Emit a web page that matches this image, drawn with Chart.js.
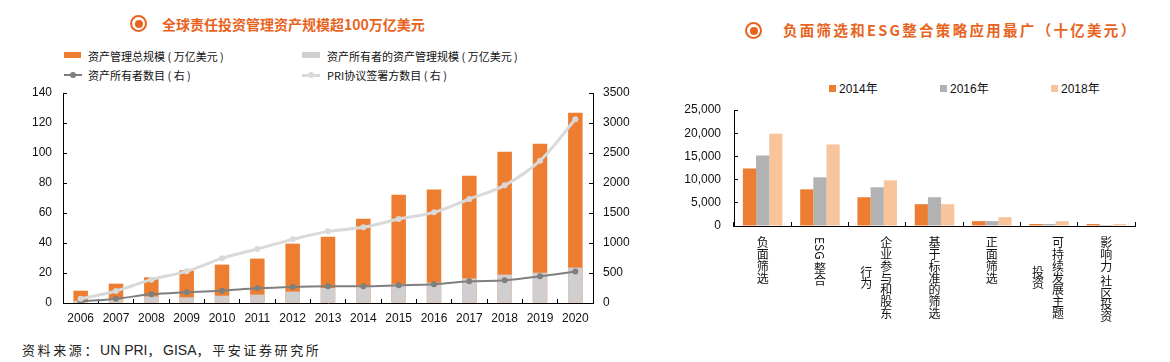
<!DOCTYPE html>
<html>
<head>
<meta charset="utf-8">
<script src="https://cdn.jsdelivr.net/npm/chart.js@4"></script>
<style>
  body { margin: 0; background: #fff; font-family: "Noto Sans CJK SC", "Liberation Sans", sans-serif; }
  #page { position: relative; width: 1170px; height: 362px; overflow: hidden; }
  .title { position: absolute; color: #E8641E; font-weight: bold; font-size: 14px; white-space: nowrap; line-height: 18px; }
  .ring { position: absolute; width: 13px; height: 13px; border: 2px solid #E8641E; border-radius: 50%; }
  .ring::after { content: ""; position: absolute; left: 2.5px; top: 2.5px; width: 8px; height: 8px; border-radius: 50%; background: #E8641E; }
  .leg { position: absolute; font-size: 11px; color: #111; white-space: nowrap; line-height: 14px; }
  .sw { position: absolute; }
  .box { position: absolute; }
  #foot { position: absolute; left: 22px; top: 340px; font-size: 13px; color: #222; letter-spacing: 2.6px; white-space: nowrap; }
  #foot .lat { font-family: "Liberation Sans"; font-size: 14px; letter-spacing: 0; }
</style>
</head>
<body>
<div id="page">
  <!-- 左图 -->
  <div class="ring" style="left:130px;top:15px;"></div>
  <div class="title" style="left:162px;top:15px;">全球责任投资管理资产规模超100万亿美元</div>

  <div class="sw" style="left:64px;top:52px;width:17px;height:6px;background:#ED7D31;"></div>
  <div class="leg" style="left:88px;top:49px;">资产管理总规模 ( 万亿美元 )</div>
  <div class="sw" style="left:302px;top:52px;width:18px;height:6px;background:#D0CECE;"></div>
  <div class="leg" style="left:327px;top:49px;">资产所有者的资产管理规模 ( 万亿美元 )</div>

  <div class="sw" style="left:64px;top:74px;width:18px;height:2px;background:#7F7F7F;"></div>
  <div class="sw" style="left:70px;top:72px;width:6px;height:6px;border-radius:50%;background:#7F7F7F;"></div>
  <div class="leg" style="left:88px;top:68px;">资产所有者数目 ( 右 )</div>
  <div class="sw" style="left:302px;top:74px;width:18px;height:3px;background:#D9D9D9;"></div>
  <div class="sw" style="left:308px;top:72px;width:6px;height:6px;border-radius:50%;background:#D9D9D9;"></div>
  <div class="leg" style="left:327px;top:68px;">PRI协议签署方数目 ( 右 )</div>

  <div class="box" style="left:0;top:85px;width:640px;height:240px;"><canvas id="leftChart"></canvas></div>

  <!-- 右图 -->
  <div class="ring" style="left:745px;top:22px;"></div>
  <div class="title" style="left:783px;top:21px;font-size:14.5px;letter-spacing:2.3px;">负面筛选和ESG整合策略应用最广（十亿美元）</div>

  <div class="sw" style="left:829px;top:85px;width:7px;height:7px;background:#ED7D31;"></div>
  <div class="leg" style="left:839px;top:82px;font-size:12px;font-family:'Liberation Sans','Noto Sans CJK SC';">2014年</div>
  <div class="sw" style="left:940px;top:85px;width:7px;height:7px;background:#B2B2B2;"></div>
  <div class="leg" style="left:950px;top:82px;font-size:12px;font-family:'Liberation Sans','Noto Sans CJK SC';">2016年</div>
  <div class="sw" style="left:1051px;top:85px;width:7px;height:7px;background:#F8C49C;"></div>
  <div class="leg" style="left:1061px;top:82px;font-size:12px;font-family:'Liberation Sans','Noto Sans CJK SC';">2018年</div>

  <div class="box" style="left:650px;top:100px;width:520px;height:240px;"><canvas id="rightChart"></canvas></div>

  <div id="foot">资料来源：<span class="lat">UN PRI</span>，<span class="lat">GISA</span>，平安证券研究所</div>
</div>

<script>
// 左图数据：全球责任投资
const years = ['2006', '2007', '2008', '2009', '2010', '2011', '2012', '2013', '2014', '2015', '2016', '2017', '2018', '2019', '2020'];
const aumTotal = [8.2, 12.9, 17.1, 21.8, 25.6, 29.6, 39.6, 44.2, 56.2, 72.2, 75.6, 84.9, 100.9, 106.2, 126.9];
const aumOwners = [1.5, 2.3, 4.4, 3.8, 4.9, 5.6, 7.6, 10.0, 10.7, 12.7, 13.6, 16.4, 18.9, 20.2, 23.6];
const ownerCount = [25, 72, 144, 178, 206, 244, 267, 278, 278, 294, 311, 361, 378, 444, 524];
const signatories = [70, 200, 389, 528, 744, 900, 1061, 1194, 1261, 1400, 1511, 1733, 1961, 2372, 3061];

// 右图数据：各策略规模（十亿美元）
const strategies = ['负面筛选', 'ESG整合', '企业参与和股东行为', '基于标准的筛选', '正面筛选', '可持续发展主题投资', '影响力/社区投资'];
const strategyLabelCols = [['负面筛选'], ['ESG 整合'], ['企业参与和股东', '行为'], ['基于标准的筛选'], ['正面筛选'], ['可持续发展主题', '投资'], ['影响力 社区投资']];
const v2014 = [12400, 7900, 6200, 4700, 1050, 430, 420];
const v2016 = [15200, 10500, 8350, 6200, 1050, 430, 220];
const v2018 = [19900, 17550, 9850, 4700, 1900, 1050, 430];

const tickFont = { family: 'Liberation Sans', size: 12 };
const axisLine = { display: true, color: '#000', width: 1 };

// 刻度向内时，标签留白不计入上下边距
function fixPad(width) {
  return s => { s.width = width; s.paddingTop = 6; s.paddingBottom = 6; };
}

new Chart(document.getElementById('leftChart'), {
  type: 'bar',
  data: {
    labels: years,
    datasets: [
      {
        type: 'line', label: 'PRI协议签署方数目（右）', data: signatories, yAxisID: 'y1',
        borderColor: '#D9D9D9', backgroundColor: '#D9D9D9', borderWidth: 3,
        pointRadius: 3, pointBorderWidth: 0, tension: 0.35, order: 0
      },
      {
        type: 'line', label: '资产所有者数目（右）', data: ownerCount, yAxisID: 'y1',
        borderColor: '#7F7F7F', backgroundColor: '#7F7F7F', borderWidth: 2,
        pointRadius: 3, pointBorderWidth: 0, tension: 0.35, order: 1
      },
      {
        label: '资产所有者的资产管理规模（万亿美元）', data: aumOwners, yAxisID: 'y',
        backgroundColor: '#D0CECE', barPercentage: 0.41, categoryPercentage: 1, order: 2
      },
      {
        label: '资产管理总规模（万亿美元）', data: aumTotal, yAxisID: 'y',
        backgroundColor: '#ED7D31', barPercentage: 0.41, categoryPercentage: 1, order: 3
      }
    ]
  },
  options: {
    responsive: true,
    maintainAspectRatio: false,
    animation: false,
    layout: { padding: { top: 8, left: 0, right: 0, bottom: 0 } },
    plugins: { legend: { display: false }, tooltip: { enabled: false } },
    scales: {
      x: {
        stacked: true,
        border: axisLine,
        grid: { drawOnChartArea: false, offset: true, tickLength: -4, color: '#000' },
        ticks: { font: tickFont, color: '#111', padding: 12, maxRotation: 0, autoSkip: false },
        afterFit: s => { s.height = 22; }
      },
      y: {
        position: 'left', min: 0, max: 140,
        border: axisLine,
        grid: { drawOnChartArea: false, tickLength: -4, color: '#000' },
        ticks: { stepSize: 20, font: tickFont, color: '#111', padding: 15 },
        afterFit: fixPad(63)
      },
      y1: {
        position: 'right', min: 0, max: 3500,
        border: axisLine,
        grid: { drawOnChartArea: false, tickLength: -4, color: '#000' },
        ticks: { stepSize: 500, font: tickFont, color: '#111', padding: 14, callback: v => String(v) },
        afterFit: fixPad(47)
      }
    }
  }
});

// 竖排的类目标签（中文直立，英文侧转）
const verticalLabels = {
  id: 'verticalLabels',
  afterDraw(chart) {
    const ctx = chart.ctx;
    const xs = chart.scales.x;
    const pitch = 11.7;
    const top = chart.chartArea.bottom + 11;
    ctx.save();
    ctx.fillStyle = '#111';
    ctx.font = '12px "Noto Sans CJK SC", "Liberation Sans"';
    ctx.textAlign = 'center';
    ctx.textBaseline = 'middle';
    const colLen = str => {
      let h = 0;
      for (const ch of str) {
        if (ch === ' ') h += 3.5;
        else if (/[A-Za-z]/.test(ch)) h += ctx.measureText(ch).width;
        else h += pitch;
      }
      return h;
    };
    strategyLabelCols.forEach((cols, i) => {
      const cx = xs.getPixelForValue(i);
      const firstLen = colLen(cols[0]);
      cols.forEach((col, c) => {
        const x = cols.length === 1 ? cx : (c === 0 ? cx + 9 : cx - 11);
        let y = top + (c === 0 ? 0 : (firstLen - colLen(col)) / 2);
        for (const ch of col) {
          if (ch === ' ') { y += 3.5; continue; }
          if (/[A-Za-z]/.test(ch)) {
            const w = ctx.measureText(ch).width;
            ctx.save();
            ctx.translate(x, y + w / 2);
            ctx.rotate(Math.PI / 2);
            ctx.fillText(ch, 0, 0);
            ctx.restore();
            y += w;
          } else {
            ctx.fillText(ch, x, y + pitch / 2);
            y += pitch;
          }
        }
      });
    });
    ctx.restore();
  }
};

new Chart(document.getElementById('rightChart'), {
  type: 'bar',
  data: {
    labels: strategies,
    datasets: [
      { label: '2014年', data: v2014, backgroundColor: '#ED7D31' },
      { label: '2016年', data: v2016, backgroundColor: '#B2B2B2' },
      { label: '2018年', data: v2018, backgroundColor: '#F8C49C' }
    ]
  },
  options: {
    responsive: true,
    maintainAspectRatio: false,
    animation: false,
    datasets: { bar: { categoryPercentage: 0.69, barPercentage: 1 } },
    layout: { padding: { top: 10, left: 0, right: 35, bottom: 0 } },
    plugins: { legend: { display: false }, tooltip: { enabled: false } },
    scales: {
      x: {
        border: axisLine,
        grid: { drawOnChartArea: false, offset: true, tickLength: -4, color: '#000' },
        ticks: { display: false },
        afterFit: s => { s.height = 114; }
      },
      y: {
        min: 0, max: 25000,
        border: axisLine,
        grid: { drawOnChartArea: false, tickLength: -4, color: '#000' },
        ticks: {
          stepSize: 5000, font: tickFont, color: '#111', padding: 17,
          callback: v => v.toLocaleString('en-US')
        },
        afterFit: fixPad(84)
      }
    }
  },
  plugins: [verticalLabels]
});
</script>
</body>
</html>
